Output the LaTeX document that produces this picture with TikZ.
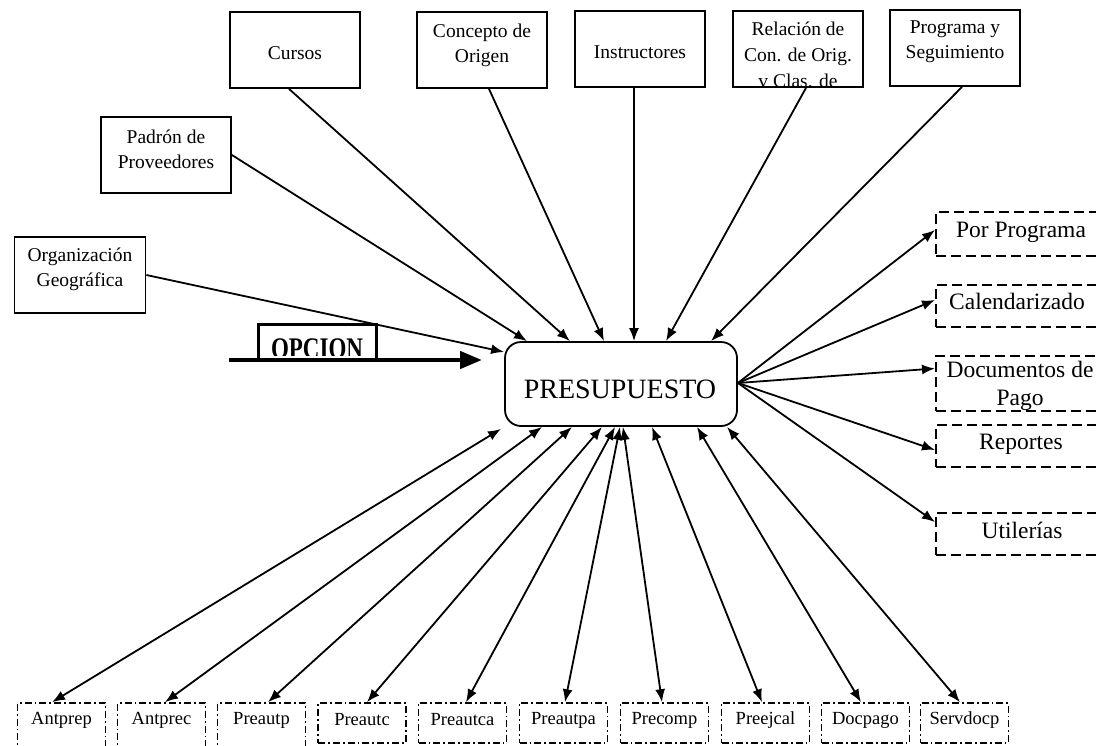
\documentclass[tikz,border=0pt]{standalone}
\usepackage{fontspec}
\setmainfont{Liberation Serif}
\usetikzlibrary{arrows.meta,calc}
\begin{document}
\begin{tikzpicture}[x=1pt,y=-1pt,
  box/.style={draw,line width=1.8pt,inner sep=0pt,minimum width=130pt,minimum height=76pt},
  ttxt/.style={align=center,inner sep=0pt,font=\fontsize{19.5}{25}\selectfont},
  rbox/.style={draw,line width=1.7pt,dash pattern=on 10pt off 5pt,inner sep=0pt,minimum width=172pt,anchor=west},
  rtxt/.style={align=center,inner sep=0pt,font=\fontsize{23.5}{28}\selectfont},
  bbox/.style={draw,line width=1.6pt,dash pattern=on 7pt off 3pt on 1.8pt off 3pt,inner sep=0pt,minimum width=88pt},
  btxt/.style={inner sep=0pt,font=\fontsize{18.5}{22}\selectfont},
  arr/.style={line width=1.8pt,-{Latex[length=13pt,width=10pt]}},
  darr/.style={line width=1.8pt,{Latex[length=13pt,width=10pt]}-{Latex[length=13pt,width=10pt]}}
]
\useasboundingbox (0,0) rectangle (1096,745);
\clip (0,0) rectangle (1096,745);

% top boxes
\node[box] (cursos) at (295,50) {};
\node[ttxt] (tcursos) at (295,53) {Cursos};
\node[box] (concepto) at (482,50) {};
\node[ttxt] (tconcepto) at (482,45) {Concepto de\\Origen};
\node[box] (instr) at (640,49) {};
\node[ttxt] (tinstr) at (640,52) {Instructores};
\node[box] (relac) at (798,49) {};
\node[ttxt,font=\fontsize{19.5}{26}\selectfont] (trelac) at (798,55) {Relación de\\Con. de Orig.\\v Clas. de};
\node[box] (prog) at (955,48) {};
\node[ttxt] (tprog) at (955,42) {Programa y\\Seguimiento};
\node[box] (padron) at (166,155) {};
\node[ttxt] (tpadron) at (166,149) {Padrón de\\Proveedores};
\node[box,minimum width=131pt] (org) at (80,275) {};
\node[ttxt] (torg) at (80,269) {Organización\\Geográfica};

% central
\node[draw,line width=1.8pt,rounded corners=16pt,minimum width=232pt,minimum height=84pt,inner sep=0pt] (P) at (621,384) {};
\node[inner sep=0pt,anchor=base,font=\fontsize{28}{28}\selectfont] (tP) at (620,398) {PRESUPUESTO};

% OPCION
\node[draw,line width=3pt,minimum width=118pt,minimum height=36pt,inner sep=0pt] (opcion) at (317,342) {};
\begin{scope}
  \clip (259,326) rectangle (375,355);
  \node[font=\bfseries\fontsize{23}{23}\selectfont,anchor=base,inner sep=0pt] (topcion) at (317,358) {\scalebox{1}[1.3]{OPCION}};
\end{scope}
\coordinate (o1) at (229,360);
\coordinate (o2) at (482,360);
\draw[line width=4.5pt,-{Triangle[length=22pt,width=17pt]}] (o1) -- (o2);

% right boxes
\node[rbox,minimum height=44pt] (r1) at (935,234) {};
\node[rtxt] (tr1) at (1021,232) {Por Programa};
\node[rbox,minimum height=42pt] (r2) at (935,306) {};
\node[rtxt] (tr2) at (1017,301) {Calendarizado};
\node[rbox,minimum height=55pt] (r3) at (935,383.5) {};
\node[rtxt] (tr3) at (1020,386) {Documentos de\\Pago};
\node[rbox,minimum height=42pt] (r4) at (935,446) {};
\node[rtxt] (tr4) at (1021,444) {Reportes};
\node[rbox,minimum height=42pt] (r5) at (935,534) {};
\node[rtxt] (tr5) at (1022,530) {Utilerías};

% bottom boxes
\node[bbox,minimum height=60pt] (b1) at (61.5,733) {};
\node[btxt] (tb1) at (61.5,720) {Antprep};
\node[bbox,minimum height=60pt] (b2) at (161.5,733) {};
\node[btxt] (tb2) at (161.5,720) {Antprec};
\node[bbox,minimum height=60pt] (b3) at (261.5,733) {};
\node[btxt] (tb3) at (261.5,720) {Preautp};
\node[bbox,minimum height=40pt] (b4) at (362,723) {};
\node[btxt] (tb4) at (362,720) {Preautc};
\node[bbox,minimum height=40pt] (b5) at (462.5,723) {};
\node[btxt] (tb5) at (462.5,720) {Preautca};
\node[bbox,minimum height=40pt] (b6) at (563.5,723) {};
\node[btxt] (tb6) at (563.5,720) {Preautpa};
\node[bbox,minimum height=40pt] (b7) at (664.5,723) {};
\node[btxt] (tb7) at (664.5,720) {Precomp};
\node[bbox,minimum height=40pt] (b8) at (765.5,723) {};
\node[btxt] (tb8) at (765.5,720) {Preejcal};
\node[bbox,minimum height=40pt] (b9) at (865.5,723) {};
\node[btxt] (tb9) at (865.5,720) {Docpago};
\node[bbox,minimum height=40pt] (b10) at (964.5,723) {};
\node[btxt] (tb10) at (964.5,720) {Servdocp};

% top connectors
\draw[arr] (org.east) -- ([yshift=32pt]P.west);
\draw[arr] (padron.east) -- ([xshift=-94pt]P.north);
\draw[arr] ([xshift=-6pt]cursos.south) -- ([xshift=-51pt]P.north);
\draw[arr] ([xshift=7pt]concepto.south) -- ([xshift=-17pt]P.north);
\draw[arr] ([xshift=-6pt]instr.south) -- ([xshift=13pt]P.north);
\draw[arr] ([xshift=8pt]relac.south) -- ([xshift=45pt]P.north);
\draw[arr] ([xshift=7pt]prog.south) -- ([xshift=90pt]P.north);

% right connectors
\draw[arr] ([yshift=1pt]P.east) -- ([yshift=4pt]r1.west);
\draw[arr] ([yshift=1pt]P.east) -- ([yshift=6pt]r2.west);
\draw[arr] ([yshift=1pt]P.east) -- ([yshift=15pt]r3.west);
\draw[arr] ([yshift=1pt]P.east) -- ([yshift=-4pt]r4.west);
\draw[arr] ([yshift=1pt]P.east) -- ([yshift=12pt]r5.west);

% bottom connectors
\draw[darr] ([xshift=-120pt,yshift=-2pt]P.south) -- ([xshift=-9.5pt]b1.north);
\draw[darr] ([xshift=-79pt]P.south) -- ([xshift=3.5pt]b2.north);
\draw[darr] ([xshift=-49pt]P.south) -- ([xshift=6.5pt]b3.north);
\draw[darr] ([xshift=-19pt]P.south) -- ([xshift=5pt]b4.north);
\draw[darr] ([xshift=-6pt]P.south) -- ([xshift=3.5pt]b5.north);
\draw[darr] ([xshift=-1pt]P.south) -- ([xshift=1.5pt]b6.north);
\draw[darr] ([xshift=2pt]P.south) -- ([xshift=-2.5pt]b7.north);
\draw[darr] ([xshift=31pt]P.south) -- ([xshift=-3.5pt]b8.north);
\draw[darr] ([xshift=76pt]P.south) -- ([xshift=-4.5pt]b9.north);
\draw[darr] ([xshift=106pt]P.south) -- ([xshift=-4.5pt]b10.north);
\end{tikzpicture}
\end{document}
